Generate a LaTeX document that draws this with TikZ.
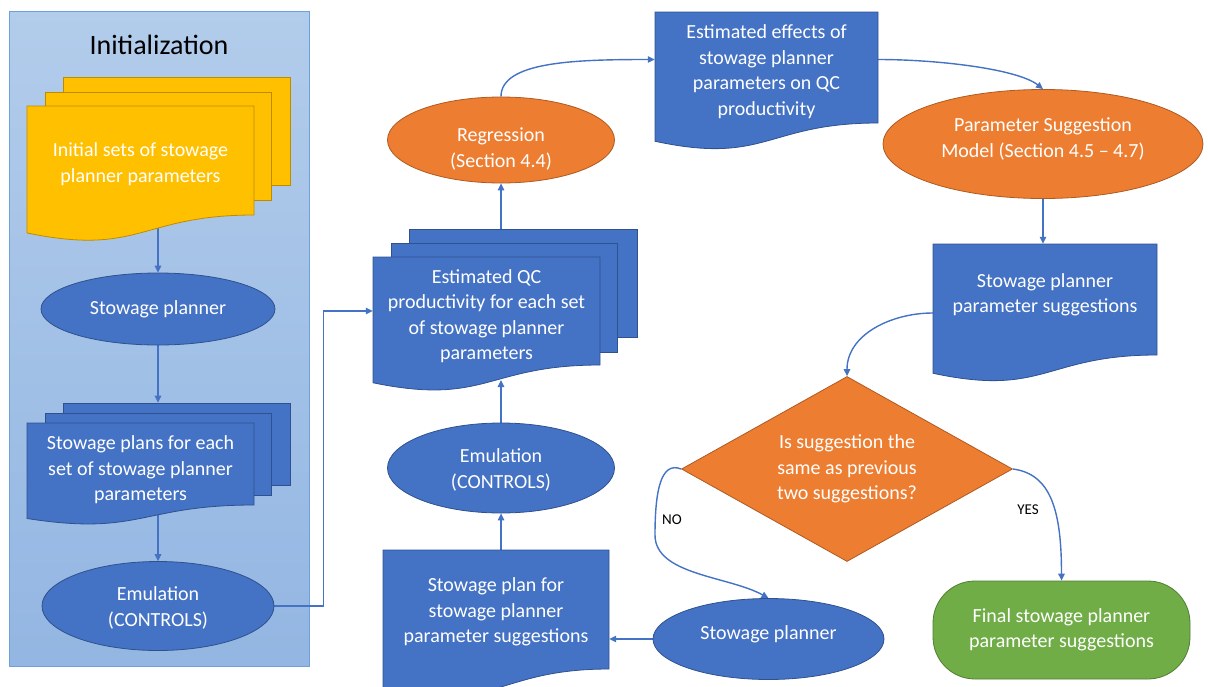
\documentclass[tikz,border=0pt]{standalone}
\usepackage{fontspec}
\setmainfont{Carlito}
\usetikzlibrary{shapes.geometric,arrows.meta,calc}
\pgfdeclarelayer{back}\pgfdeclarelayer{conn}\pgfdeclarelayer{shapes}
\pgfsetlayers{back,conn,shapes,main}
\definecolor{cblue}{HTML}{4472C4}
\definecolor{cblueb}{HTML}{2F528F}
\definecolor{corange}{HTML}{ED7D31}
\definecolor{corangeb}{HTML}{AE5A21}
\definecolor{cyellow}{HTML}{FFC000}
\definecolor{cyellowb}{HTML}{BC8C00}
\definecolor{cgreen}{HTML}{70AD47}
\definecolor{cgreenb}{HTML}{507E32}
\definecolor{cline}{HTML}{4472C4}
\definecolor{paneltop}{HTML}{B2CCEB}
\definecolor{panelbot}{HTML}{93B6E2}
\definecolor{panelb}{HTML}{6FA0DC}
\tikzset{
  txt/.style={text=white, align=center, font=\fontsize{20}{25.5}\selectfont, inner sep=0pt},
  bshape/.style={fill=cblue, draw=cblueb, line width=0.8pt},
  oshape/.style={fill=corange, draw=corangeb, line width=0.8pt},
  yshape/.style={fill=cyellow, draw=cyellowb, line width=0.8pt},
  gshape/.style={fill=cgreen, draw=cgreenb, line width=0.8pt},
  bell/.style={ellipse, bshape, inner sep=0pt},
  oell/.style={ellipse, oshape, inner sep=0pt},
  arr/.style={draw=cline, line width=1.4pt, -{Triangle[length=7pt,width=6.5pt]}},
  lbl/.style={text=black, font=\fontsize{15}{17}\selectfont, inner sep=1pt},
}
% stacked back sheet
\newcommand\sheet[6]{%
  \pgfmathsetmacro\shw{#5-#3}\pgfmathsetmacro\shh{#6-#4}%
  \begin{pgfonlayer}{shapes}
  \node[#1, inner sep=0pt, minimum width=\shw pt, minimum height=\shh pt] (#2) at ({(#3+#5)/2},{(#4+#6)/2}) {};
  \end{pgfonlayer}}
% document shape: style, name, x1, y1, x2, y-right-bottom, text shift, text
\newcommand\docnode[8]{%
  \pgfmathsetmacro\dochh{(#6-#4)/0.802}%
  \pgfmathsetmacro\docxm{(#3+#5)/2}%
  \pgfmathsetmacro\docyc{#4+1.1075*\dochh}%
  \pgfmathsetmacro\docyl{#4+0.934*\dochh}%
  \pgfmathsetmacro\docw{#5-#3}\pgfmathsetmacro\doch{#6-#4}%
  \begin{pgfonlayer}{shapes}
  \path[#1] (#3,#4) -- (#5,#4) -- (#5,#6) .. controls (\docxm,#6) and (\docxm,\docyc) .. (#3,\docyl) -- cycle;
  \end{pgfonlayer}
  \node[inner sep=0pt, minimum width=\docw pt, minimum height=\doch pt, label={[txt,yshift=#7pt]center:{#8}}] (#2) at ({(#3+#5)/2},{(#4+#6)/2}) {};}
\begin{document}
\begin{tikzpicture}[x=1pt,y=-1pt]
\useasboundingbox (0,0) rectangle (1208,686);
% Initialization panel
\begin{pgfonlayer}{back}
\node[draw=panelb, line width=0.8pt, top color=paneltop, bottom color=panelbot, minimum width=300pt, minimum height=655pt, inner sep=0pt] (panel) at (159,338.5) {};
\end{pgfonlayer}
\node[text=black, font=\fontsize{28}{30}\selectfont] (init) at (159,45) {Initialization};

% yellow stack
\sheet{yshape}{ysb}{63}{77}{290}{185}
\sheet{yshape}{ysm}{45}{92}{271}{200}
\docnode{yshape}{ydoc}{27}{106}{254}{215}{-3.5}{Initial sets of stowage\\planner parameters}

\node[bell, minimum width=234pt, minimum height=72pt, label={[txt]center:{Stowage planner}}] (sp1) at (158,309) {};

% stowage plans stack
\sheet{bshape}{splb}{63}{403}{290}{485}
\sheet{bshape}{splm}{45}{413}{271}{495}
\docnode{bshape}{spl}{27}{423}{254}{505}{-6}{Stowage plans for each\\set of stowage planner\\parameters}

\node[bell, minimum width=232pt, minimum height=89pt, label={[txt,yshift=-2pt]center:{Emulation\\(CONTROLS)}}] (em1) at (158,606) {};

% QC stack
\sheet{bshape}{qcb}{409}{229}{637}{337}
\sheet{bshape}{qcm}{391}{243}{617}{352}
\docnode{bshape}{qc}{373}{257}{600}{365}{-5}{Estimated QC\\productivity for each set\\of stowage planner\\parameters}

\node[oell, minimum width=227pt, minimum height=86pt, label={[txt,yshift=-9pt]center:{Regression\\(Section 4.4)}}] (reg) at (501,140) {};
\node[bell, minimum width=227pt, minimum height=90pt, label={[txt,yshift=-2pt]center:{Emulation\\(CONTROLS)}}] (em2) at (501,468) {};

\docnode{bshape}{eff}{655}{12}{878}{123}{-4}{Estimated effects of\\stowage planner\\parameters on QC\\productivity}

\node[oell, minimum width=320pt, minimum height=109pt, label={[txt,yshift=5pt]center:{Parameter Suggestion\\Model (Section 4.5 – 4.7)}}] (psm) at (1043,144) {};

\docnode{bshape}{psd}{933}{244}{1157}{355}{4.5}{Stowage planner\\parameter suggestions}

\node[diamond, oshape, minimum width=331pt, minimum height=185pt, aspect=1.79, inner sep=0pt, txt] (dia) at (847,469) {Is suggestion the\\same as previous\\two suggestions?};

\node[bell, minimum width=231pt, minimum height=81pt, label={[txt,yshift=5pt]center:{Stowage planner}}] (sp2) at (768.5,639) {};

\docnode{bshape}{spb}{383}{550}{609}{669}{-2.5}{Stowage plan for\\stowage planner\\parameter suggestions}

\node[rectangle, gshape, rounded corners=42pt, minimum width=257pt, minimum height=98pt, inner sep=0pt, txt] (fin) at (1061.5,630) {Final stowage planner\\parameter suggestions};

\node[lbl] (nolbl) at (672,520) {NO};
\node[lbl] (yeslbl) at (1028,510) {YES};

\coordinate (qcw) at (501,380);
\coordinate (nobend) at (655,535);
% connectors
\begin{pgfonlayer}{conn}
\draw[arr] (ydoc.south -| sp1.north) -- (sp1.north);
\draw[arr] (sp1.south) -- (sp1.south |- splb.north);
\draw[arr] (spl.south -| em1.north) -- (em1.north);
\draw[arr] (em1.east) -- ++(49,0) |- (qc.west);
\draw[arr] (em2.north) -- (qcw);
\draw[arr] (qcb.north -| reg.south) -- (reg.south);
\draw[arr] (reg.north) .. controls +(0,-35) and +(-80,0) .. ([yshift=8pt]eff.west);
\draw[arr] ([yshift=8pt]eff.east) .. controls +(60,0) and +(-25,-20) .. (psm.north);
\draw[arr] (psm.south) -- (psm.south |- psd.north);
\draw[arr] ([yshift=-13.5pt]psd.west) to[out=180,in=90] (dia.north);
\draw[arr] (dia.west) .. controls +(-20,-8) and +(0,-45) .. (nobend) .. controls +(0,40) and +(-40,-22) .. (sp2.north);
\draw[arr] (dia.east) .. controls +(38,5) and +(0,-70) .. (fin.north);
\draw[arr] (sp2.west) -- (spb.east |- sp2.west);
\draw[arr] (spb.north -| em2.south) -- (em2.south);
\end{pgfonlayer}
\end{tikzpicture}
\end{document}
